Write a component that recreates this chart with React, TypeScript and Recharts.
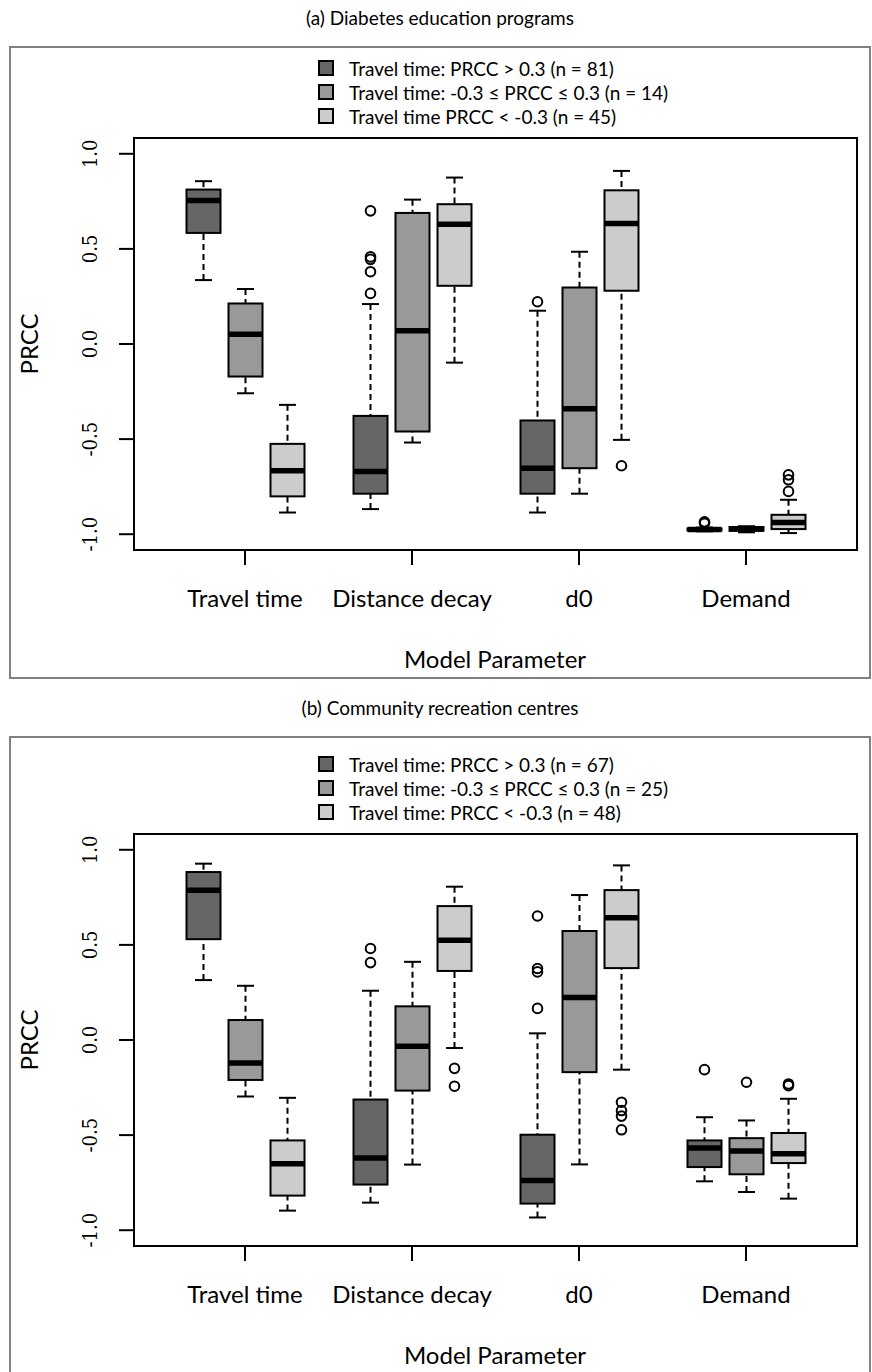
import React from "react";
import { BarChart, Bar, XAxis, YAxis } from "recharts";

const categories = ["Travel time", "Distance decay", "d0", "Demand"];
const yTicks = [-1, -0.5, 0, 0.5, 1];

// five-number summaries per category: [lower whisker, Q1, median, Q3, upper whisker]
const diabetesHigh = [
  [0.336, 0.584, 0.754, 0.812, 0.856],
  [-0.868, -0.787, -0.67, -0.378, 0.21],
  [-0.886, -0.787, -0.653, -0.402, 0.175],
  [-0.985, -0.98, -0.975, -0.97, -0.965],
];
const diabetesHighOut = [[], [0.7, 0.458, 0.445, 0.38, 0.266], [0.222], [-0.935, -0.942]];
const diabetesMid = [
  [-0.259, -0.171, 0.051, 0.213, 0.289],
  [-0.518, -0.46, 0.07, 0.689, 0.759],
  [-0.787, -0.653, -0.341, 0.297, 0.485],
  [-0.99, -0.982, -0.972, -0.962, -0.958],
];
const diabetesMidOut = [[], [], [], []];
const diabetesLow = [
  [-0.886, -0.801, -0.667, -0.525, -0.32],
  [-0.098, 0.306, 0.63, 0.735, 0.875],
  [-0.504, 0.28, 0.633, 0.808, 0.91],
  [-0.994, -0.973, -0.938, -0.898, -0.819],
];
const diabetesLowOut = [[], [], [-0.64], [-0.688, -0.714, -0.775]];

const recHigh = [
  [0.315, 0.53, 0.787, 0.883, 0.927],
  [-0.855, -0.76, -0.62, -0.313, 0.259],
  [-0.933, -0.86, -0.738, -0.498, 0.035],
  [-0.743, -0.668, -0.568, -0.528, -0.406],
];
const recHighOut = [[], [0.481, 0.407], [0.652, 0.376, 0.358, 0.166], [-0.156]];
const recMid = [
  [-0.297, -0.21, -0.121, 0.105, 0.285],
  [-0.655, -0.266, -0.033, 0.177, 0.411],
  [-0.654, -0.169, 0.224, 0.573, 0.762],
  [-0.799, -0.706, -0.584, -0.516, -0.423],
];
const recMidOut = [[], [], [], [-0.222]];
const recLow = [
  [-0.897, -0.818, -0.65, -0.528, -0.304],
  [-0.042, 0.363, 0.524, 0.704, 0.806],
  [-0.156, 0.378, 0.643, 0.788, 0.918],
  [-0.834, -0.647, -0.598, -0.489, -0.309],
];
const recLowOut = [[], [-0.149, -0.243], [-0.327, -0.371, -0.4, -0.472], [-0.231, -0.24]];

const diabetesLegend = [
  "Travel time: PRCC > 0.3 (n = 81)",
  "Travel time: -0.3 \u2264 PRCC \u2264 0.3 (n = 14)",
  "Travel time PRCC < -0.3 (n = 45)",
];
const recLegend = [
  "Travel time: PRCC > 0.3 (n = 67)",
  "Travel time: -0.3 \u2264 PRCC \u2264 0.3 (n = 25)",
  "Travel time: PRCC < -0.3 (n = 48)",
];

const seriesKeys = ["high", "mid", "low"];
const fills = ["#666666", "#999999", "#cccccc"];

const W = 872;
const H = 696;
const PLOT = { left: 134, right: 857, top: 138, bottom: 550 };
const LABEL_FONT = "Lato, 'Open Sans', sans-serif";
const TICK_FONT = "'DejaVu Serif Condensed', 'DejaVu Serif', serif";

type Stats = { box: number[]; out: number[] };

function buildRows(h: number[][], hOut: number[][], m: number[][], mOut: number[][], l: number[][], lOut: number[][]) {
  return categories.map((name, i) => ({
    name,
    high: { box: h[i], out: hOut[i] },
    mid: { box: m[i], out: mOut[i] },
    low: { box: l[i], out: lOut[i] },
  }));
}

const extent = (s: Stats): [number, number] => [
  Math.min(s.box[0], ...s.out),
  Math.max(s.box[4], ...s.out),
];

// Bar spans the full extent of a group; the shape rebuilds the scale from it
function BoxShape(props: any) {
  const { x, y, width, height, payload, seriesKey, fill } = props;
  const s: Stats = payload[seriesKey];
  const [lo, hi] = extent(s);
  const top = Math.min(y, y + height);
  const span = Math.abs(height);
  const toY = (v: number) => (hi === lo ? top : top + ((hi - v) / (hi - lo)) * span);
  const cx = x + width / 2;
  const cap = width / 4;
  const [wLo, q1, med, q3, wHi] = s.box;
  const line = { stroke: "#000", strokeWidth: 2 };
  return (
    <g>
      <line x1={cx} x2={cx} y1={toY(wHi)} y2={toY(q3)} {...line} strokeDasharray="6 4" />
      <line x1={cx} x2={cx} y1={toY(wLo)} y2={toY(q1)} {...line} strokeDasharray="6 4" />
      <line x1={cx - cap} x2={cx + cap} y1={toY(wHi)} y2={toY(wHi)} {...line} />
      <line x1={cx - cap} x2={cx + cap} y1={toY(wLo)} y2={toY(wLo)} {...line} />
      <rect x={x} y={toY(q3)} width={width} height={toY(q1) - toY(q3)} fill={fill} {...line} />
      <line x1={x} x2={x + width} y1={toY(med)} y2={toY(med)} stroke="#000" strokeWidth={5.5} />
      {s.out.map((v, i) => (
        <circle key={i} cx={cx} cy={toY(v)} r={4.8} fill="none" {...line} />
      ))}
    </g>
  );
}

function CategoryTick(props: any) {
  const { x, payload } = props;
  return (
    <text x={x} y={597} textAnchor="middle" dominantBaseline="central" fontFamily={LABEL_FONT} fontSize={24} fill="#000">
      {payload.value}
    </text>
  );
}

function ValueTick(props: any) {
  const { y, payload } = props;
  return (
    <text
      x={90}
      y={y}
      dy="0.35em"
      transform={`rotate(-90, 90, ${y})`}
      textAnchor="middle"
      fontFamily={TICK_FONT}
      fontSize={20}
      fill="#000"
    >
      {Number(payload.value).toFixed(1)}
    </text>
  );
}

function Panel({ title, legend, rows, titleY, borderY }: any) {
  return (
    <div style={{ position: "relative", width: W, height: H }}>
      <BarChart
        width={W}
        height={H}
        data={rows}
        margin={{ top: PLOT.top, right: W - PLOT.right, bottom: 86, left: 0 }}
        barSize={34}
        barGap={8}
      >
        <XAxis
          dataKey="name"
          type="category"
          interval={0}
          height={60}
          padding={{ left: 27.5, right: 27.5 }}
          axisLine={false}
          tickSize={15}
          tickLine={{ stroke: "#000", strokeWidth: 2 }}
          tick={<CategoryTick />}
        />
        <YAxis
          type="number"
          domain={[-1.083, 1.083]}
          ticks={yTicks}
          width={PLOT.left}
          axisLine={false}
          tickSize={15}
          tickLine={{ stroke: "#000", strokeWidth: 2 }}
          tick={<ValueTick />}
        />
        {seriesKeys.map((key, i) => (
          <Bar
            key={key}
            dataKey={(row: any) => extent(row[key])}
            fill={fills[i]}
            isAnimationActive={false}
            shape={(p: any) => <BoxShape {...p} seriesKey={key} />}
          />
        ))}
      </BarChart>
      <svg
        width={W}
        height={H}
        style={{ position: "absolute", left: 0, top: 0, pointerEvents: "none", overflow: "hidden" }}
      >
        <rect x={10} y={borderY} width={860} height={678 - borderY} fill="none" stroke="#808080" strokeWidth={2} />
        <text x={440} y={titleY} textAnchor="middle" dominantBaseline="central" fontFamily={LABEL_FONT} fontSize={19} fill="#000">
          {title}
        </text>
        {legend.map((label: string, i: number) => (
          <g key={label}>
            <rect x={319} y={68 + i * 24 - 7} width={14} height={14} fill={fills[i]} stroke="#000" strokeWidth={2} />
            <text x={349} y={68 + i * 24} dominantBaseline="central" fontFamily={LABEL_FONT} fontSize={19} fill="#000">
              {label}
            </text>
          </g>
        ))}
        <rect
          x={PLOT.left}
          y={PLOT.top}
          width={PLOT.right - PLOT.left}
          height={PLOT.bottom - PLOT.top}
          fill="none"
          stroke="#000"
          strokeWidth={2}
        />
        <text
          x={30}
          y={344}
          dy="0.35em"
          transform="rotate(-90, 30, 344)"
          textAnchor="middle"
          fontFamily={LABEL_FONT}
          fontSize={24}
          fill="#000"
        >
          PRCC
        </text>
        <text x={495} y={658} textAnchor="middle" dominantBaseline="central" fontFamily={LABEL_FONT} fontSize={24} fill="#000">
          Model Parameter
        </text>
      </svg>
    </div>
  );
}

const diabetesRows = buildRows(diabetesHigh, diabetesHighOut, diabetesMid, diabetesMidOut, diabetesLow, diabetesLowOut);
const recRows = buildRows(recHigh, recHighOut, recMid, recMidOut, recLow, recLowOut);

export default function App() {
  return (
    <div style={{ position: "absolute", left: 0, top: 0, width: W, height: 1372, background: "#fff", overflow: "hidden" }}>
      <Panel title="(a) Diabetes education programs" legend={diabetesLegend} rows={diabetesRows} titleY={17} borderY={47} />
      <Panel title="(b) Community recreation centres" legend={recLegend} rows={recRows} titleY={11} borderY={41} />
    </div>
  );
}
